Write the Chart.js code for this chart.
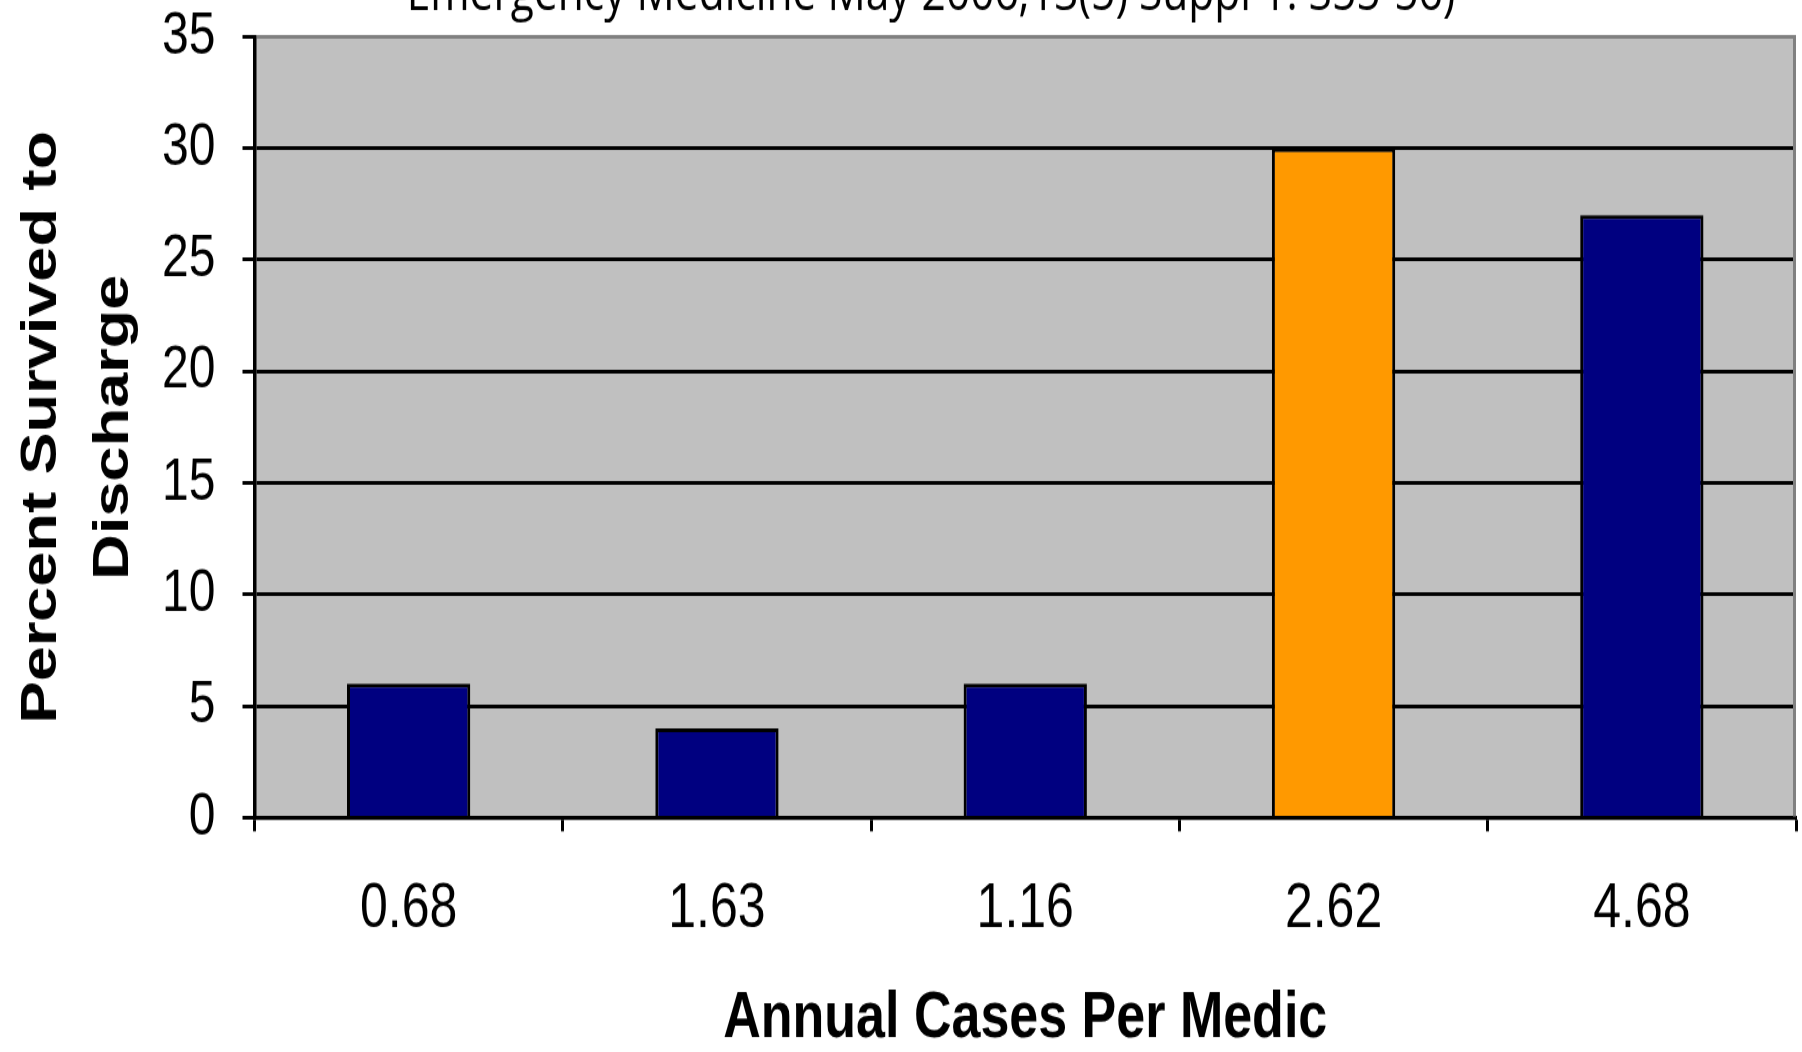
<!DOCTYPE html>
<html>
<head>
<meta charset="utf-8">
<script src="https://cdn.jsdelivr.net/npm/chart.js@4.4.1/dist/chart.umd.min.js"></script>
<style>
  html, body { margin: 0; padding: 0; background: #ffffff; overflow: hidden; }
  #wrap { position: relative; width: 1802px; height: 1052px; overflow: hidden; }
  /* the original picture is stretched vertically, so draw flat and stretch */
  #stretch { position: absolute; left: 0; top: -50px; width: 1802px; height: 882px;
             transform: scaleY(1.2494); transform-origin: 0 0; }
</style>
</head>
<body>
<div id="wrap"><div id="stretch"><canvas id="chart" width="1802" height="882"></canvas></div></div>
<script>
const casosPorMedico = ['0.68', '1.63', '1.16', '2.62', '4.68'];
const porcentajeSobrevida = [6, 4, 6, 30, 27];
const coloresBarras = ['#000080', '#000080', '#000080', '#FF9900', '#000080'];
const titulo = 'Emergency Medicine May 2006;13(5) Suppl 1: S55-56)';
const tituloY = ['Percent Survived to', 'Discharge'];
const tituloX = 'Annual Cases Per Medic';

const fuente = '"Liberation Sans", Arial, sans-serif';

// fondo gris del area de trazado y borde derecho
const fondoPlot = {
    id: 'fondoPlot',
    beforeDraw(chart) {
        const { ctx, chartArea: a } = chart;
        ctx.save();
        ctx.fillStyle = '#C0C0C0';
        ctx.fillRect(a.left, a.top, a.right - a.left, a.bottom - a.top);
        ctx.restore();
    },
    afterDraw(chart) {
        const { ctx, chartArea: a } = chart;
        ctx.save();
        ctx.strokeStyle = '#808080';
        ctx.lineWidth = 3;
        ctx.beginPath();
        ctx.moveTo(a.right - 1.5, a.top - 1.5);
        ctx.lineTo(a.right - 1.5, a.bottom - 1);
        ctx.stroke();
        ctx.restore();
    }
};

const ctx = document.getElementById('chart').getContext('2d');
new Chart(ctx, {
    type: 'bar',
    data: {
        labels: casosPorMedico,
        datasets: [{
            data: porcentajeSobrevida,
            backgroundColor: coloresBarras,
            borderColor: '#000000',
            borderWidth: 3,
            barPercentage: 0.4,
            categoryPercentage: 1
        }]
    },
    options: {
        responsive: false,
        devicePixelRatio: 1,
        animation: false,
        layout: { padding: { left: 66, right: 6, top: 0, bottom: 0 } },
        plugins: {
            legend: { display: false },
            tooltip: { enabled: false },
            title: {
                display: true,
                text: titulo,
                color: '#000000',
                font: { family: '"Open Sans", sans-serif', size: 42.5, weight: 'normal', lineHeight: 1.2 },
                padding: { top: 10.6, bottom: 7.8 }
            }
        },
        scales: {
            x: {
                grid: {
                    offset: true,
                    drawOnChartArea: false,
                    drawTicks: true,
                    tickLength: 11,
                    tickWidth: 3,
                    tickColor: '#000000'
                },
                border: { color: '#000000', width: 3.2 },
                ticks: {
                    color: '#000000',
                    padding: 33,
                    font: { family: fuente, size: 50, lineHeight: 1.2 }
                },
                title: {
                    display: true,
                    text: tituloX,
                    color: '#000000',
                    font: { family: fuente, size: 52, weight: 'bold', lineHeight: 1 },
                    padding: { top: 0, bottom: 0 }
                },
                afterFit(scale) { scale.height = 187.6; }
            },
            y: {
                min: 0,
                max: 35,
                grid: {
                    color: (c) => (c.tick && c.tick.value === 35 ? '#808080' : '#000000'),
                    lineWidth: 3,
                    tickLength: 12,
                    tickWidth: 3,
                    tickColor: '#000000'
                },
                border: { color: '#000000', width: 3.5 },
                ticks: {
                    stepSize: 5,
                    color: '#000000',
                    padding: 27,
                    font: { family: fuente, size: 48 }
                },
                title: {
                    display: true,
                    text: tituloY,
                    color: '#000000',
                    font: { family: fuente, size: 50.5, weight: 'bold', lineHeight: 1.43 },
                    padding: { top: -60, bottom: 0 }
                },
                afterFit(scale) { scale.width = 188.5; }
            }
        }
    },
    plugins: [fondoPlot]
});
</script>
</body>
</html>
